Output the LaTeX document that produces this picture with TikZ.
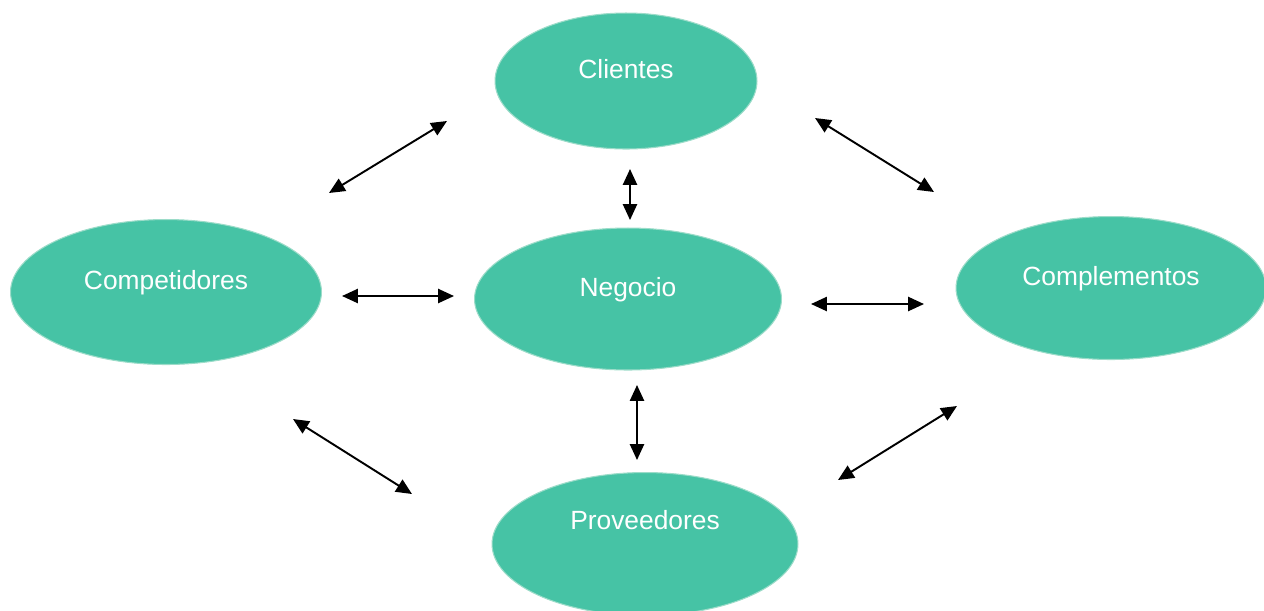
\documentclass[tikz,border=0pt]{standalone}
\usepackage{fontspec}
\setmainfont{Liberation Sans}
\usetikzlibrary{arrows.meta, shapes.geometric}
\definecolor{mint}{HTML}{46C3A5}
\definecolor{mintline}{HTML}{9CDCC9}

\begin{document}
\begin{tikzpicture}[
            x = 0.02cm, y = -0.02cm, % one unit per pixel
            > = {Triangle[length=9pt, width=8pt]}, % arrow head style
            line width = 1.1pt
        ]

        \tikzstyle{actor}=[
            ellipse,
            draw = mintline,
            line width = 0.6pt,
            fill = mint,
            text = white,
            font = \fontsize{15}{18}\selectfont,
            text height = 0.36cm,
            text depth = 0.46cm
        ]

        \useasboundingbox (0,0) rectangle (1264,610);

        \node[actor, minimum width=5.24cm, minimum height=2.72cm] (cli) at (626,81) {Clientes};
        \node[actor, minimum width=6.22cm, minimum height=2.90cm] (comp) at (166,292) {Competidores};
        \node[actor, minimum width=6.14cm, minimum height=2.84cm] (neg) at (628,299) {Negocio};
        \node[actor, minimum width=6.20cm, minimum height=2.86cm] (compl) at (1111,288) {Complementos};
        \node[actor, minimum width=6.12cm, minimum height=2.86cm, text depth=0.94cm] (prov) at (645,544) {Proveedores};

        % free arrow ends
        \coordinate (a1) at (329,193); \coordinate (b1) at (447,121);
        \coordinate (a2) at (630,169); \coordinate (b2) at (630,220);
        \coordinate (a3) at (815,118); \coordinate (b3) at (934,192);
        \coordinate (a4) at (342,296); \coordinate (b4) at (454,296);
        \coordinate (a5) at (811,304); \coordinate (b5) at (924,304);
        \coordinate (a6) at (637,385); \coordinate (b6) at (637,460);
        \coordinate (a7) at (293,419); \coordinate (b7) at (412,494);
        \coordinate (a8) at (838,480); \coordinate (b8) at (957,406);

        \foreach \i in {1,...,8}
            \draw[<->] (a\i) -- (b\i);

  \end{tikzpicture}
\end{document}
